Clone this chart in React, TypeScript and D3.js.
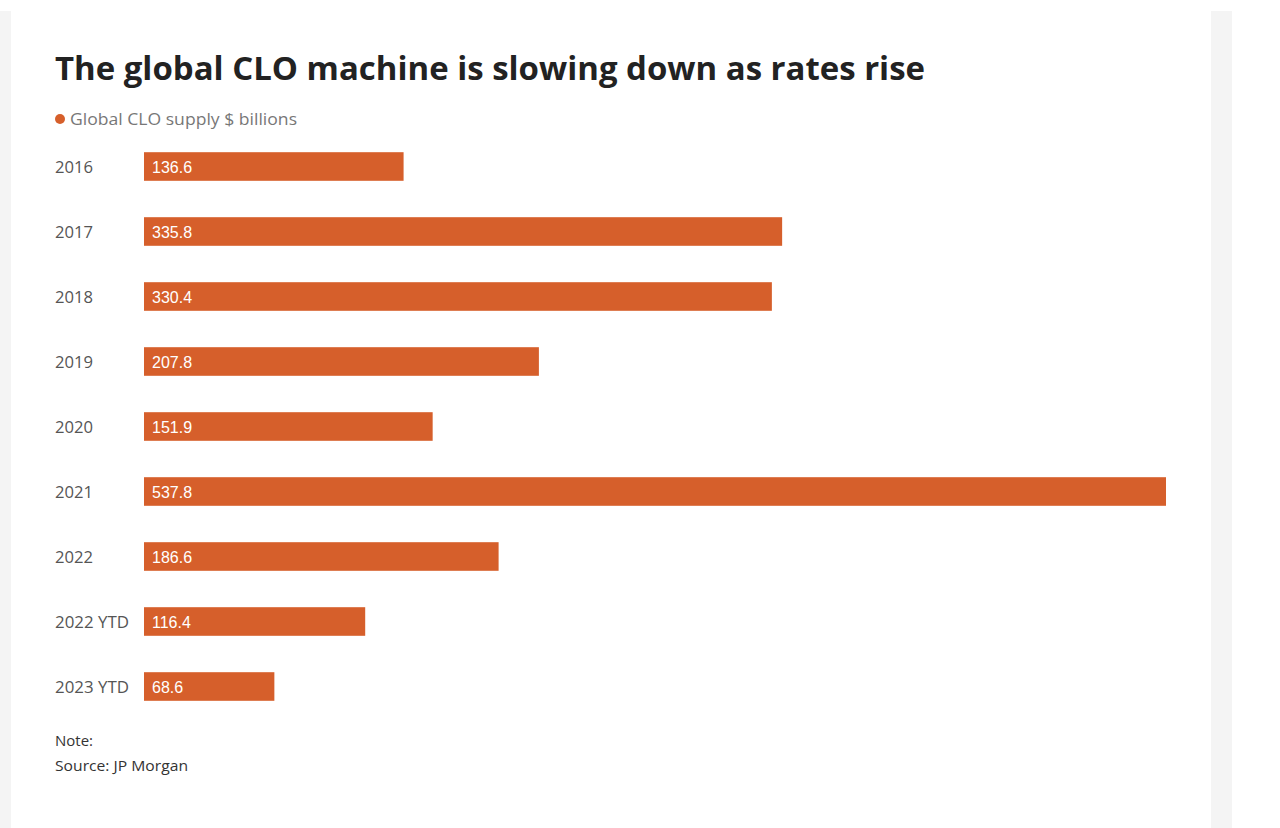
import React from "react";
import * as d3 from "d3";

const categories = ["2016", "2017", "2018", "2019", "2020", "2021", "2022", "2022 YTD", "2023 YTD"];
const values = [136.6, 335.8, 330.4, 207.8, 151.9, 537.8, 186.6, 116.4, 68.6];
const seriesName = "Global CLO supply $ billions";
const title = "The global CLO machine is slowing down as rates rise";
const note = "Note:";
const source = "Source: JP Morgan";

const W = 1280;
const H = 828;
const BAR = "#d65f2b";
const FONT = "'Source Sans Pro', 'Open Sans', 'Noto Sans', sans-serif";

export default function App() {
  const x = d3.scaleLinear().domain([0, 537.8]).range([144, 1166]);
  const y = d3
    .scaleBand<string>()
    .domain(categories)
    .range([134, 719])
    .paddingInner(0.56)
    .paddingOuter(0.28);

  return (
    <svg
      width={W}
      height={H}
      style={{ position: "absolute", left: 0, top: 0, display: "block" }}
    >
      <rect x={0} y={0} width={W} height={H} fill="#ffffff" />
      <rect x={0} y={11} width={1232} height={H - 11} fill="#f4f4f4" />
      <rect x={11} y={11} width={1200} height={H - 11} fill="#ffffff" />

      <text
        x={55}
        y={80}
        fontFamily={FONT}
        fontWeight={700}
        fontSize={32}
        fill="#222"
        textLength={870}
        lengthAdjust="spacingAndGlyphs"
      >
        {title}
      </text>

      <circle cx={60} cy={119} r={5} fill={BAR} />
      <text
        x={70}
        y={125}
        fontFamily={FONT}
        fontSize={16.5}
        fill="#777"
        textLength={227}
        lengthAdjust="spacingAndGlyphs"
      >
        {seriesName}
      </text>

      {categories.map((c, i) => {
        const by = y(c)!;
        const bh = y.bandwidth();
        return (
          <g key={c}>
            <text
              x={55}
              y={by + bh / 2 + 6}
              fontFamily={FONT}
              fontSize={16.5}
              fill="#555"
              textLength={c.length > 4 ? 74 : 38}
              lengthAdjust="spacingAndGlyphs"
            >
              {c}
            </text>
            <rect x={x(0)} y={by} width={x(values[i]) - x(0)} height={bh} fill={BAR} />
            <text
              x={x(0) + 8}
              y={by + bh / 2 + 6}
              fontFamily="'Liberation Sans', Arial, sans-serif"
              fontSize={16}
              fill="#ffffff"
            >
              {values[i].toFixed(1)}
            </text>
          </g>
        );
      })}

      <text
        x={55}
        y={746}
        fontFamily={FONT}
        fontSize={15}
        fill="#333"
        textLength={38}
        lengthAdjust="spacingAndGlyphs"
      >
        {note}
      </text>
      <text
        x={55}
        y={771}
        fontFamily={FONT}
        fontSize={15}
        fill="#333"
        textLength={133}
        lengthAdjust="spacingAndGlyphs"
      >
        {source}
      </text>
    </svg>
  );
}
